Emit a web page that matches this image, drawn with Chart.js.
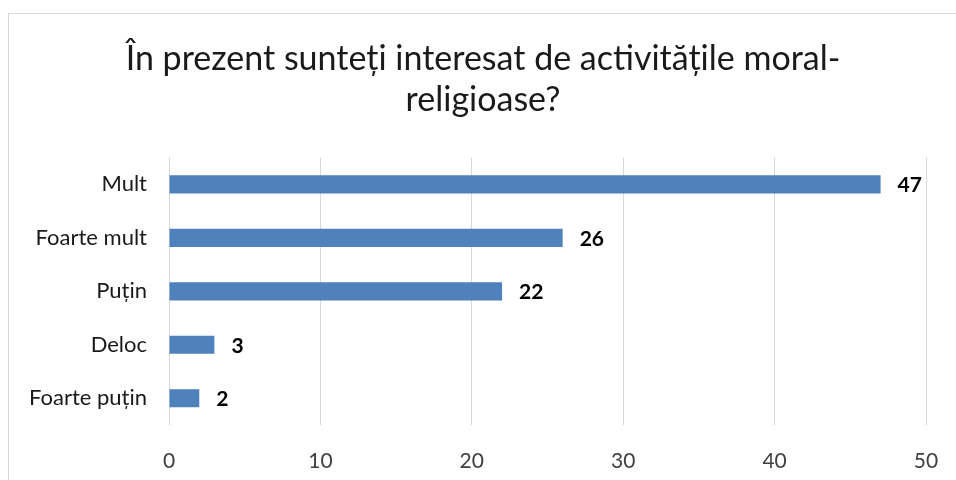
<!DOCTYPE html>
<html>
<head>
<meta charset="utf-8">
<script src="https://cdn.jsdelivr.net/npm/chart.js@4"></script>
<style>
  html, body { margin: 0; padding: 0; background: #ffffff; overflow: hidden; }
  #wrap { position: relative; width: 956px; height: 480px; }
  #frame {
    position: absolute; left: 8px; top: 13px; width: 980px; height: 500px;
    border: 1px solid #d9d9d9; box-sizing: border-box;
  }
  canvas { position: absolute; left: 0; top: 0; }
</style>
</head>
<body>
<div id="wrap">
  <div id="frame"></div>
  <canvas id="chart" width="956" height="480"></canvas>
</div>
<script>
const categories = ["Mult", "Foarte mult", "Puțin", "Deloc", "Foarte puțin"];
const counts = [47, 26, 22, 3, 2];
const titleLines = ["În prezent sunteți interesat de activitățile moral-", "religioase?"];

const FONT = "Lato, 'Open Sans', sans-serif";

// draws the bold value next to the end of each bar
const valueLabels = {
  id: "valueLabels",
  afterDatasetsDraw(chart) {
    const { ctx } = chart;
    const meta = chart.getDatasetMeta(0);
    ctx.save();
    ctx.font = "bold 21px " + FONT;
    ctx.fillStyle = "#000000";
    ctx.textAlign = "left";
    ctx.textBaseline = "middle";
    meta.data.forEach((bar, i) => {
      ctx.fillText(String(counts[i]), bar.x + 17, bar.y + 1);
    });
    ctx.restore();
  },
};

new Chart(document.getElementById("chart"), {
  type: "bar",
  data: {
    labels: categories,
    datasets: [
      {
        data: counts,
        backgroundColor: "#4f81bd",
        borderWidth: 0,
        categoryPercentage: 0.34,
        barPercentage: 1,
      },
    ],
  },
  options: {
    indexAxis: "y",
    responsive: false,
    animation: false,
    layout: { padding: { left: 28, right: 18, top: 0, bottom: 8 } },
    plugins: {
      legend: { display: false },
      tooltip: { enabled: false },
      title: {
        display: true,
        text: titleLines,
        color: "#1a1a1a",
        font: { family: FONT, size: 34, weight: "normal", lineHeight: 1.2 },
        padding: { top: 39, bottom: 37 },
      },
    },
    scales: {
      x: {
        min: 0,
        max: 50,
        ticks: {
          stepSize: 10,
          color: "#404040",
          font: { family: FONT, size: 21 },
          padding: 24,
        },
        grid: { color: "#d9d9d9", lineWidth: 1, drawTicks: false },
        border: { display: false },
        afterFit(scale) {
          scale.height = 47;
          scale.paddingLeft = 0;
          scale.paddingRight = 30;
        },
      },
      y: {
        ticks: {
          color: "#1a1a1a",
          font: { family: FONT, size: 22 },
          padding: 22,
        },
        grid: { display: false, drawTicks: false },
        border: { display: false },
        afterFit(scale) {
          scale.width = 141;
        },
      },
    },
  },
  plugins: [valueLabels],
});
</script>
</body>
</html>
